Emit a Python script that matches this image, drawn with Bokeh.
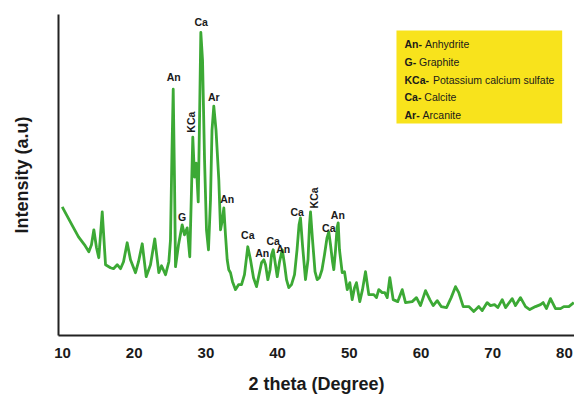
from bokeh.plotting import figure
from bokeh.models import Range1d, FixedTicker, BoxAnnotation, ColumnDataSource
from bokeh.core.properties import value
from bokeh.embed import file_html
from bokeh.resources import INLINE
import math

# ---- data ----
two_theta = [9.96, 10.56, 11.39, 12.23, 13.07, 13.67, 14.04, 14.37, 14.74, 15.06,
             15.54, 16.0, 16.69, 17.11, 17.63, 18.09, 18.51, 19.02, 19.48, 20.18,
             20.6, 21.12, 21.67, 22.27, 22.87, 23.43, 23.81, 24.37, 24.83, 25.06,
             25.27, 25.44, 25.62, 25.76, 26.18, 26.69, 27.02, 27.39, 27.75, 27.99,
             28.17, 28.41, 28.65, 28.93, 29.11, 29.29, 29.53, 29.81, 30.08, 30.36,
             30.64, 30.85, 31.10, 31.41, 31.8, 32.04, 32.25, 32.5, 32.73, 32.97,
             33.19, 33.43, 33.71, 34.13, 34.55, 34.97, 35.38, 35.84, 36.22, 36.64,
             37.06, 37.41, 37.76, 38.08, 38.32, 38.64, 38.95, 39.16, 39.39, 39.64,
             39.95, 40.27, 40.65, 40.97, 41.24, 41.56, 41.94, 42.36, 42.71, 42.99,
             43.19, 43.47, 43.89, 44.24, 44.45, 44.59, 44.87, 45.22, 45.52, 45.84,
             46.19, 46.54, 46.89, 47.14, 47.38, 47.66, 47.84, 48.08, 48.29, 48.45,
             48.63, 49.01, 49.33, 49.71, 50.07, 50.40, 50.73, 51.0, 51.46, 51.84,
             52.26, 52.72, 53.42, 53.79, 54.11, 54.59, 54.95, 55.29, 55.65, 56.12,
             56.76, 57.38, 57.84, 58.77, 59.37, 59.93, 60.63, 61.23, 61.70, 62.26,
             62.82, 63.56, 64.21, 64.81, 65.27, 65.89, 66.67, 67.36, 68.06, 68.54,
             69.23, 69.69, 70.25, 70.71, 71.33, 71.79, 72.72, 73.18, 73.88, 74.58,
             75.17, 75.97, 76.67, 77.04, 77.50, 78.06, 78.76, 79.46, 79.92, 80.62,
             81.31]
intensity = [129, 121, 110, 99, 91, 84, 91, 106, 88, 78,
             124, 71, 68, 67, 71, 67, 74, 93, 76, 63,
             74, 92, 59, 71, 97, 63, 70, 61, 74, 96,
             186, 247, 156, 69, 91, 111, 101, 108, 79, 146,
             199, 159, 173, 134, 216, 304, 276, 176, 106, 86,
             136, 206, 230, 206, 156, 106, 114, 128, 101, 76,
             66, 63, 54, 46, 51, 51, 61, 89, 76, 58,
             49, 61, 73, 76, 71, 56, 66, 81, 86, 74,
             59, 74, 86, 71, 56, 48, 51, 61, 86, 111,
             118, 91, 56, 76, 111, 124, 96, 64, 56, 58,
             66, 81, 98, 104, 91, 74, 66, 86, 108, 113,
             86, 63, 64, 46, 53, 36, 48, 53, 34, 46,
             64, 41, 41, 38, 46, 43, 43, 38, 58, 36,
             34, 46, 33, 34, 38, 30, 45, 36, 30, 35,
             29, 28, 38, 49, 43, 29, 29, 24, 29, 25,
             33, 30, 31, 28, 36, 28, 37, 30, 38, 29,
             26, 29, 31, 33, 27, 37, 27, 27, 29, 29,
             33]

peak_names = ["An", "G", "KCa", "Ca", "Ar", "An", "Ca", "An", "Ca", "An",
              "Ca", "KCa", "Ca", "An"]
peak_x = [25.52, 26.69, 27.95, 29.34, 31.10, 32.97, 35.84, 37.85, 39.39, 40.78,
          42.73, 45.05, 47.14, 48.40]
peak_y = [259, 119, 214, 314, 239, 137, 101, 83, 95, 87,
          124, 138, 108, 121]
peak_vertical = [False, False, True, False, False, False, False, False, False, False,
                 False, True, False, False]

legend_codes = ["An-", "G-", "KCa-", "Ca-", "Ar-"]
legend_names = ["Anhydrite", "Graphite", "Potassium calcium sulfate", "Calcite", "Arcanite"]

x_ticks = [10, 20, 30, 40, 50, 60, 70, 80]

# ---- figure ----
FONT = "Liberation Sans"
p = figure(width=574, height=396, output_backend="svg", toolbar_location=None,
           x_range=Range1d(9.44, 81.41), y_range=Range1d(0, 322),
           min_border_left=58, min_border_right=0, min_border_top=14,
           min_border_bottom=60, background_fill_color="white")
p.outline_line_color = None
p.grid.visible = False

p.xaxis.ticker = FixedTicker(ticks=x_ticks)
p.xaxis.major_tick_line_color = None
p.xaxis.minor_tick_line_color = None
p.xaxis.major_label_text_font = FONT
p.xaxis.major_label_text_font_style = "bold"
p.xaxis.major_label_text_font_size = "15px"
p.xaxis.major_label_text_color = "#1a1a1a"
p.xaxis.major_label_standoff = 6
p.xaxis.axis_label = "2 theta (Degree)"
p.xaxis.axis_label_text_font = FONT
p.xaxis.axis_label_text_font_style = "bold"
p.xaxis.axis_label_text_font_size = "18px"
p.xaxis.axis_label_text_color = "#1a1a1a"
p.xaxis.axis_label_standoff = 13

p.yaxis.ticker = FixedTicker(ticks=[])
p.yaxis.major_tick_line_color = None
p.yaxis.minor_tick_line_color = None
p.yaxis.major_label_text_font_size = "0px"
p.yaxis.axis_label = "Intensity (a.u)"
p.yaxis.axis_label_text_font = FONT
p.yaxis.axis_label_text_font_style = "bold"
p.yaxis.axis_label_text_font_size = "18px"
p.yaxis.axis_label_text_color = "#1a1a1a"
p.yaxis.axis_label_standoff = 27

for ax in (p.xaxis[0], p.yaxis[0]):
    ax.axis_line_color = "#222222"
    ax.axis_line_width = 2

p.line(two_theta, intensity, line_color="#3CA935", line_width=2.8, line_join="round")

# peak labels
lab = ColumnDataSource(dict(x=peak_x, y=peak_y, t=peak_names,
                            a=[math.pi / 2 if v else 0 for v in peak_vertical]))
p.text(x="x", y="y", text="t", angle="a", source=lab, text_align="center",
       text_baseline="middle", text_font=value(FONT), text_font_style="bold",
       text_font_size="10.5px", text_color="#1a1a1a")

# legend box (layout)
box_left, box_right, box_top, box_bottom = 56.58, 79.69, 306, 212.7
p.add_layout(BoxAnnotation(left=box_left, right=box_right, top=box_top, bottom=box_bottom,
                           fill_color="#F8E31C", fill_alpha=1.0, line_color=None,
                           level="underlay"))
n = len(legend_codes)
leg_x = [57.70] * n
leg_y = [292 - 17.7 * i for i in range(n)]
offsets = [20.4, 14.6, 28.5, 19.8, 18.1]
leg = ColumnDataSource(dict(x=leg_x, y=leg_y, c=legend_codes, nm=legend_names, off=offsets))
p.text(x="x", y="y", text="c", source=leg, text_align="left", text_baseline="middle",
       text_font=value(FONT), text_font_style="bold", text_font_size="10.5px",
       text_color="#1a1a1a")
p.text(x="x", y="y", text="nm", source=leg, x_offset="off", text_align="left",
       text_baseline="middle", text_font=value(FONT), text_font_size="10.5px",
       text_color="#1a1a1a")

open("out.html", "w").write(file_html(p, INLINE))
